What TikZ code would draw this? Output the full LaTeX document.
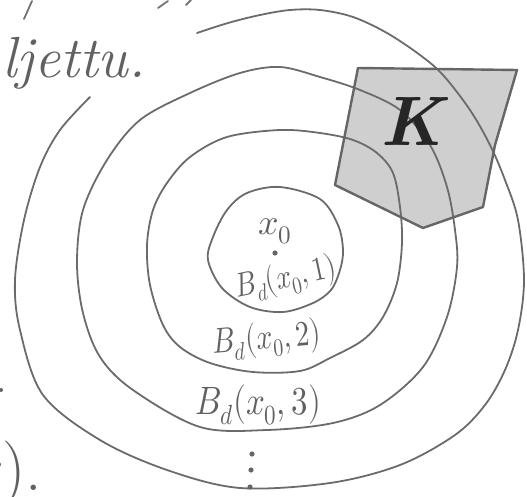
\documentclass[tikz,border=0pt]{standalone}
\usepackage{fontspec}
\usepackage{unicode-math}
\begin{document}
\begin{tikzpicture}[x=1pt,y=-1pt,
  ring/.style={draw=black!58, line width=1.8pt, line join=round, line cap=round},
  kedge/.style={draw=black!60, line width=2.4pt, line join=round},
  hand/.style={text=black!62, inner sep=0pt},
  frag/.style={draw=black!55, line width=1.8pt, line cap=round},
  dotf/.style={fill=black!60},
]
\useasboundingbox (0,0) rectangle (527,497);
% set K (fill)
\fill[black!19] (358,68) -- (517,70) -- (495,145) -- (483,207) -- (423,228) -- (335,185) -- cycle;
% ball 1
\draw[ring] plot[smooth cycle, tension=0.55] coordinates {
 (280,187) (320,199) (338,225) (343,250) (340,270) (331,290) (313,303) (283,312)
 (250,307) (222,288) (208,260) (213,237) (227,210) (247,193)};
% ball 2
\draw[ring] plot[smooth cycle, tension=0.55] coordinates {
 (280,130) (320,133) (353,140) (377,153) (393,173) (400,207) (402,243) (397,283)
 (383,317) (363,340) (330,358) (300,371) (253,372) (210,363) (180,347) (163,325)
 (150,285) (147,245) (153,210) (167,183) (190,157) (227,137)};
% ball 3
\draw[ring] plot[smooth cycle, tension=0.55] coordinates {
 (280,67) (320,77) (360,90) (400,110) (430,145) (447,187) (455,230) (457,267)
 (447,317) (423,367) (380,405) (333,423) (267,430) (200,427) (133,390) (100,357)
 (83,313) (77,263) (83,210) (107,160) (140,120) (190,93) (240,73)};
% ball 4 (open)
\draw[ring] plot[smooth, tension=0.55] coordinates {
 (90,97) (60,130) (40,167) (24,220) (15,280) (20,330) (43,395) (100,440) (167,470)
 (240,488) (330,483) (400,465) (455,435) (485,405) (505,370) (518,330) (524,280)
 (518,220) (505,180) (490,145) (470,110) (443,75) (420,55) (387,33) (353,17)
 (320,10) (290,10) (260,15) (228,23) (197,33)};
% K outline and letter
\draw[kedge] (358,68) -- (517,70) -- (495,145) -- (483,207) -- (423,228) -- (335,185) -- cycle;
\node[text=black!85, inner sep=0pt, font=\fontsize{70}{70}\selectfont\bfseries\itshape] (K) at (412,121) {K};
% centre point
\fill[dotf] (275,253) circle (2.6pt);
\node[hand, font=\fontsize{36}{36}\selectfont] (x0) at (275,231) {$x_0$};
% labels
\node[hand, rotate=12, font=\fontsize{27}{27}\selectfont] (b1) at (286,279) {\scalebox{1}[1.25]{$B_d(x_0,1)$}};
\node[hand, rotate=5, font=\fontsize{28.5}{28.5}\selectfont] (b2) at (267,340) {\scalebox{1}[1.25]{$B_d(x_0,2)$}};
\node[hand, font=\fontsize{33}{33}\selectfont] (b3) at (258,405) {\scalebox{1}[1.2]{$B_d(x_0,3)$}};
% vertical dots
\fill[dotf] (252,454) circle (2.6pt);
\fill[dotf] (251,470) circle (2.6pt);
\fill[dotf] (250,487) circle (2.6pt);
% text fragments at the margins
\node[hand, anchor=base west, font=\fontsize{58}{58}\selectfont\itshape] (txt) at (2,78) {ljettu.};
\node[hand, anchor=base west, font=\fontsize{66}{66}\selectfont] (end) at (-21,490) {r).};
\fill[dotf] (1,390) circle (2pt);
\draw[frag] (24,19) -- (32,1);
\draw[frag] (158,8) -- (168,1);
\draw[frag] (186,5) -- (191,0);
\end{tikzpicture}
\end{document}
